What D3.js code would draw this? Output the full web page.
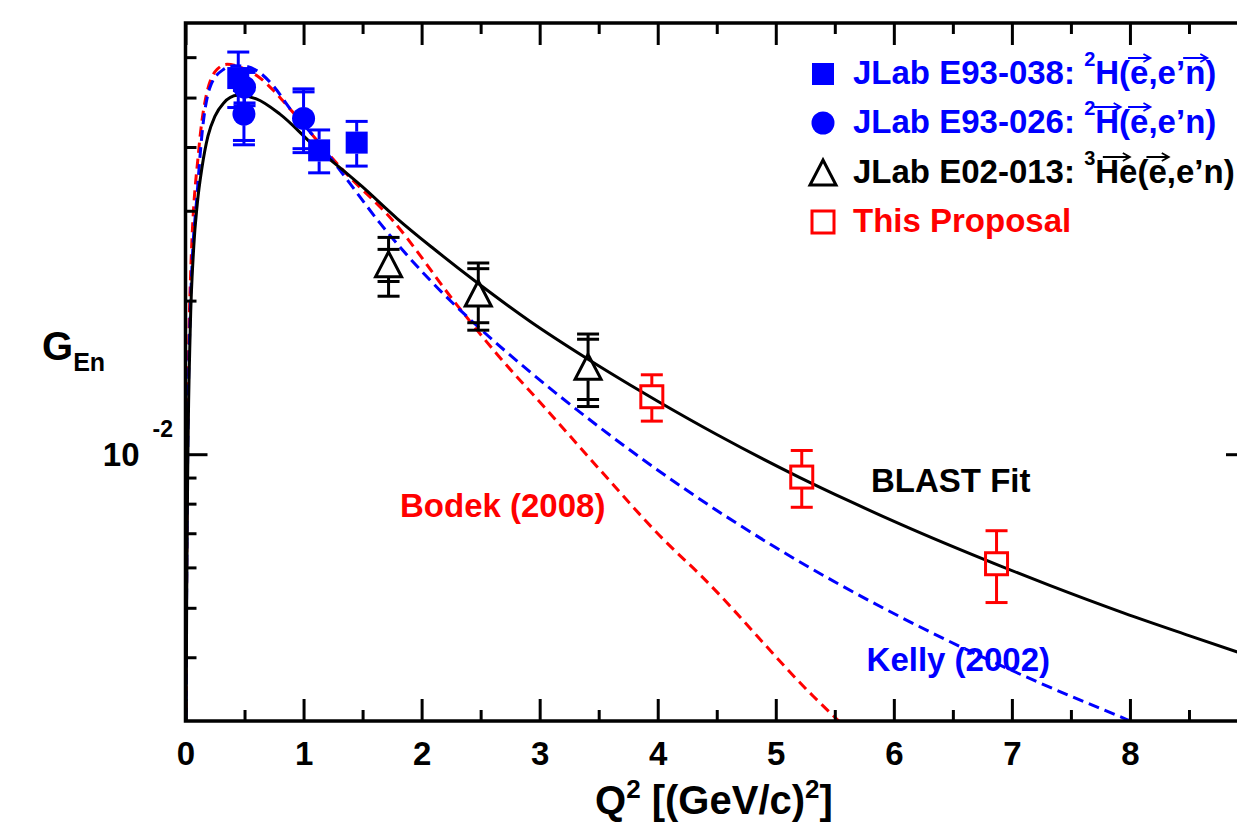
<!DOCTYPE html>
<html><head><meta charset="utf-8">
<script src="https://cdn.jsdelivr.net/npm/d3@7"></script>
<style>
html,body{margin:0;padding:0;background:#fff;overflow:hidden;}
svg{display:block;font-family:"Liberation Sans",Arial,Helvetica,sans-serif;font-weight:bold;}
text{white-space:pre;}
</style></head><body>
<svg id="chart" width="1237" height="837"></svg>
<script>
// ---------------- data ----------------
const xMajorTicks = [0,1,2,3,4,5,6,7,8,9];
const xTickLabels = ["0","1","2","3","4","5","6","7","8","9"];
const xMinorTicks = [0.5,1.5,2.5,3.5,4.5,5.5,6.5,7.5,8.5];
const yMajorTicks = [0.01];
const yMinorTicks = [0.004,0.005,0.006,0.007,0.008,0.009,0.02,0.03,0.04,0.05,0.06];

// JLab E93-038 (filled squares)
const e93038Q2  = [0.447, 1.132, 1.450];
const e93038GEn = [0.0546, 0.0394, 0.0408];
const e93038Err = [0.0068, 0.0038, 0.0041];

// JLab E93-026 (filled circles)
const e93026Q2   = [0.495, 0.50, 1.00];
const e93026GEn  = [0.0464, 0.0524, 0.0455];
const e93026Err  = [0.0060, 0.0042, 0.0065];
const e93026Stat = [0.0052, 0.0036, 0.0058];

// JLab E02-013 (open triangles)
const e02013Q2   = [1.72, 2.48, 3.41];
const e02013GEn  = [0.0235, 0.0206, 0.0148];
const e02013Err  = [0.0031, 0.0031, 0.0024];
const e02013Stat = [0.0017, 0.0025, 0.0020];

// This proposal (open squares)
const propQ2  = [3.95, 5.22, 6.87];
const propGEn = [0.01296, 0.00902, 0.0061];
const propErr = [0.00135, 0.00115, 0.00098];

// BLAST fit (solid black)
const blastQ2  = [0.005,0.01,0.02,0.04,0.07,0.10,0.14,0.19,0.25,0.32,0.44,0.60,0.80,1.08,1.50,1.79,2.10,2.48,2.92,3.40,3.77,4.00,4.50,5.20,5.63,6.05,6.90,7.32,7.95,8.50,9.00];
const blastGEn = [0.0027,0.0052,0.0098,0.0175,0.0255,0.0310,0.0365,0.0420,0.0460,0.0487,0.0505,0.0497,0.0464,0.0404,0.0334,0.0290,0.0253,0.0216,0.0182,0.0154,0.01365,0.0127,0.01093,0.00901,0.00808,0.0073,0.00604,0.00553,0.00488,0.00441,0.00403];

// Kelly (2002) (blue dashed)
const kellyQ2  = [0.004,0.01,0.02,0.04,0.057,0.095,0.141,0.212,0.324,0.409,0.50,0.607,0.75,0.889,1.086,1.369,1.651,2.074,2.498,2.921,3.514,4.219,5.01,6.054,6.45,7.24,7.974,8.2];
const kellyGEn = [0.0026,0.0056,0.0108,0.0188,0.0240,0.0316,0.0427,0.0527,0.0568,0.0577,0.0576,0.0564,0.0525,0.0474,0.0420,0.0345,0.0283,0.0219,0.0176,0.01448,0.01126,0.00858,0.00654,0.0048,0.00432,0.00356,0.00302,0.00287];

// Bodek (2008) (red dashed)
const bodekQ2  = [0.004,0.01,0.02,0.042,0.113,0.169,0.268,0.353,0.45,0.60,0.75,0.889,1.341,1.75,2.30,2.639,3.063,3.514,4.05,4.36,5.32,5.60];
const bodekGEn = [0.0027,0.0062,0.0122,0.0220,0.0396,0.0496,0.0568,0.0581,0.0575,0.0553,0.0515,0.0474,0.0359,0.0288,0.0196,0.0157,0.0122,0.0093,0.0068,0.0058,0.00335,0.0029];

// ---------------- chart ----------------
const svg = d3.select("#chart");
const P = {left:185.5, right:1248, top:23, bottom:721};
const x = d3.scaleLinear().domain([0,9]).range([P.left, P.right]);
const y = d3.scaleLog().domain([0.003,0.07]).range([P.bottom, P.top]);
const BLUE="#0000ff", RED="#ff0000", BLACK="#000000";

svg.append("defs").append("clipPath").attr("id","clip")
  .append("rect").attr("x",P.left).attr("y",P.top).attr("width",P.right-P.left).attr("height",P.bottom-P.top);

// curves
const line = d3.line().x(d=>x(d[0])).y(d=>y(d[1])).curve(d3.curveMonotoneX);
const curves = svg.append("g").attr("clip-path","url(#clip)");
curves.append("path").datum(d3.zip(bodekQ2,bodekGEn)).attr("d",line)
  .attr("fill","none").attr("stroke",RED).attr("stroke-width",3).attr("stroke-dasharray","10,6");
curves.append("path").datum(d3.zip(kellyQ2,kellyGEn)).attr("d",line)
  .attr("fill","none").attr("stroke",BLUE).attr("stroke-width",3).attr("stroke-dasharray","11,6");
curves.append("path").datum(d3.zip(blastQ2,blastGEn)).attr("d",line)
  .attr("fill","none").attr("stroke",BLACK).attr("stroke-width",3);

// axes
function styleAxis(g){
  g.select(".domain").remove();
  g.selectAll(".tick line").attr("stroke","#000").attr("stroke-width",3);
  g.selectAll(".tick text").attr("fill","#000").attr("font-size",33).attr("font-weight","bold")
    .attr("font-family","'Liberation Sans',Arial,sans-serif");
}
svg.append("g").attr("transform",`translate(0,${P.bottom})`)
  .call(d3.axisBottom(x).tickValues(xMajorTicks).tickFormat((d,i)=>xTickLabels[i]).tickSizeInner(-22).tickSizeOuter(0).tickPadding(21))
  .call(styleAxis);
svg.append("g").attr("transform",`translate(0,${P.bottom})`)
  .call(d3.axisBottom(x).tickValues(xMinorTicks).tickFormat("").tickSizeInner(-11).tickSizeOuter(0)).call(styleAxis);
svg.append("g").attr("transform",`translate(0,${P.top})`)
  .call(d3.axisTop(x).tickValues(xMajorTicks).tickFormat("").tickSizeInner(-22).tickSizeOuter(0)).call(styleAxis);
svg.append("g").attr("transform",`translate(0,${P.top})`)
  .call(d3.axisTop(x).tickValues(xMinorTicks).tickFormat("").tickSizeInner(-11).tickSizeOuter(0)).call(styleAxis);
svg.append("g").attr("transform",`translate(${P.left},0)`)
  .call(d3.axisLeft(y).tickValues(yMajorTicks).tickFormat("").tickSizeInner(-22).tickSizeOuter(0)).call(styleAxis);
svg.append("g").attr("transform",`translate(${P.left},0)`)
  .call(d3.axisLeft(y).tickValues(yMinorTicks).tickFormat("").tickSizeInner(-11).tickSizeOuter(0)).call(styleAxis);
svg.append("g").attr("transform",`translate(${P.right},0)`)
  .call(d3.axisRight(y).tickValues(yMajorTicks).tickFormat("").tickSizeInner(-22).tickSizeOuter(0)).call(styleAxis);
svg.append("g").attr("transform",`translate(${P.right},0)`)
  .call(d3.axisRight(y).tickValues(yMinorTicks).tickFormat("").tickSizeInner(-11).tickSizeOuter(0)).call(styleAxis);

// frame
svg.append("rect").attr("x",P.left).attr("y",P.top).attr("width",P.right-P.left).attr("height",P.bottom-P.top)
  .attr("fill","none").attr("stroke","#000").attr("stroke-width",3.5);

// y tick label 10^-2
yMajorTicks.forEach(v=>{
  svg.append("text").attr("x",P.left-46).attr("y",y(v)+12).attr("text-anchor","end")
    .attr("font-size",33).text("10");
  svg.append("text").attr("x",P.left-33).attr("y",y(v)-17).attr("text-anchor","start")
    .attr("font-size",23).text("-2");
});

// axis titles
const xt = svg.append("text").attr("x",595).attr("y",814).attr("font-size",40);
xt.append("tspan").text("Q");
xt.append("tspan").attr("font-size",26).attr("dy",-16).text("2");
xt.append("tspan").attr("dy",16).text(" [(GeV/c)");
xt.append("tspan").attr("font-size",26).attr("dy",-16).text("2");
xt.append("tspan").attr("dy",16).text("]");
const yt = svg.append("text").attr("x",42).attr("y",360).attr("font-size",40);
yt.append("tspan").text("G");
yt.append("tspan").attr("font-size",25).attr("dy",11).text("En");

// markers
function errBar(g, cx, v, e, half, color){
  const y1 = y(v+e), y2 = y(v-e), yc = y(v);
  if (yc-half > y1) g.append("line").attr("x1",cx).attr("x2",cx).attr("y1",y1).attr("y2",yc-half);
  if (yc+half < y2) g.append("line").attr("x1",cx).attr("x2",cx).attr("y1",yc+half).attr("y2",y2);
  [y1,y2].forEach(yy=>g.append("line").attr("x1",cx-11).attr("x2",cx+11).attr("y1",yy).attr("y2",yy));
  g.selectAll("line").attr("stroke",color).attr("stroke-width",3);
}
function capOnly(g, cx, v, e, color){
  [y(v+e),y(v-e)].forEach(yy=>g.append("line").attr("x1",cx-11).attr("x2",cx+11).attr("y1",yy).attr("y2",yy)
    .attr("stroke",color).attr("stroke-width",3));
}
function drawSquare(g,cx,cy,color,filled){
  g.append("rect").attr("x",cx-11).attr("y",cy-11).attr("width",22).attr("height",22)
    .attr("fill",filled?color:"none").attr("stroke",color).attr("stroke-width",filled?0:3);
}
function drawCircle(g,cx,cy,color){
  g.append("circle").attr("cx",cx).attr("cy",cy).attr("r",11.5).attr("fill",color);
}
function drawTriangle(g,cx,cy,color){
  g.append("path").attr("d",`M${cx},${cy-13}L${cx+13},${cy+12}L${cx-13},${cy+12}Z`)
    .attr("fill","none").attr("stroke",color).attr("stroke-width",3).attr("stroke-linejoin","miter");
}

const pts = svg.append("g");
e02013Q2.forEach((q,i)=>{
  const g=pts.append("g"); const cx=x(q), cy=y(e02013GEn[i]);
  errBar(g,cx,e02013GEn[i],e02013Err[i],13,BLACK);
  capOnly(g,cx,e02013GEn[i],e02013Stat[i],BLACK);
  drawTriangle(g,cx,cy,BLACK);
});
propQ2.forEach((q,i)=>{
  const g=pts.append("g"); const cx=x(q), cy=y(propGEn[i]);
  errBar(g,cx,propGEn[i],propErr[i],11,RED);
  drawSquare(g,cx,cy,RED,false);
});
e93026Q2.forEach((q,i)=>{
  const g=pts.append("g"); const cx=x(q), cy=y(e93026GEn[i]);
  errBar(g,cx,e93026GEn[i],e93026Err[i],11,BLUE);
  capOnly(g,cx,e93026GEn[i],e93026Stat[i],BLUE);
  drawCircle(g,cx,cy,BLUE);
});
e93038Q2.forEach((q,i)=>{
  const g=pts.append("g"); const cx=x(q), cy=y(e93038GEn[i]);
  errBar(g,cx,e93038GEn[i],e93038Err[i],11,BLUE);
  drawSquare(g,cx,cy,BLUE,true);
});

// curve labels
svg.append("text").attr("x",871).attr("y",492).attr("font-size",33).attr("fill",BLACK).text("BLAST Fit");
svg.append("text").attr("x",400).attr("y",517).attr("font-size",33).attr("fill",RED).text("Bodek (2008)");
svg.append("text").attr("x",1050).attr("y",671).attr("text-anchor","end").attr("font-size",33).attr("fill",BLUE).text("Kelly (2002)");

// legend
const legendRows = [
  {marker:"fsquare", color:BLUE, pieces:[{t:"JLab E93-038: "},{t:"2",sup:1},{t:"H("},{t:"e",arrow:1},{t:",e’"},{t:"n",arrow:1},{t:")"}]},
  {marker:"circle", color:BLUE, pieces:[{t:"JLab E93-026: "},{t:"2",sup:1},{t:"H",arrow:1},{t:"("},{t:"e",arrow:1},{t:",e’n)"}]},
  {marker:"triangle", color:BLACK, pieces:[{t:"JLab E02-013: "},{t:"3",sup:1},{t:"He",arrow:1},{t:"("},{t:"e",arrow:1},{t:",e’n)"}]},
  {marker:"osquare", color:RED, pieces:[{t:"This Proposal"}]}
];
const legendY = [74, 123, 173, 222];
const lg = svg.append("g");
legendRows.forEach((r,i)=>{
  const cy = legendY[i], mx = 823;
  if (r.marker==="fsquare") drawSquare(lg,mx,cy,r.color,true);
  if (r.marker==="circle") drawCircle(lg,mx,cy,r.color);
  if (r.marker==="triangle") drawTriangle(lg,mx,cy,r.color);
  if (r.marker==="osquare") drawSquare(lg,mx,cy,r.color,false);
  const base = cy + 10; let cx = 853;
  r.pieces.forEach(p=>{
    const t = lg.append("text").attr("x",cx).attr("y",p.sup?base-18:base)
      .attr("font-size",p.sup?20:33).attr("fill",r.color).text(p.t);
    const w = t.node().getComputedTextLength();
    if (p.arrow){
      const len = Math.min(w+4, 27), mid = cx + w/2, ya = base-26;
      const x0 = mid-len/2, x1 = mid+len/2;
      lg.append("path").attr("d",`M${x0},${ya}L${x1},${ya}M${x1-7},${ya-4}L${x1},${ya}L${x1-7},${ya+4}`)
        .attr("fill","none").attr("stroke",r.color).attr("stroke-width",1.8);
    }
    cx += w;
  });
});
</script>
</body></html>
